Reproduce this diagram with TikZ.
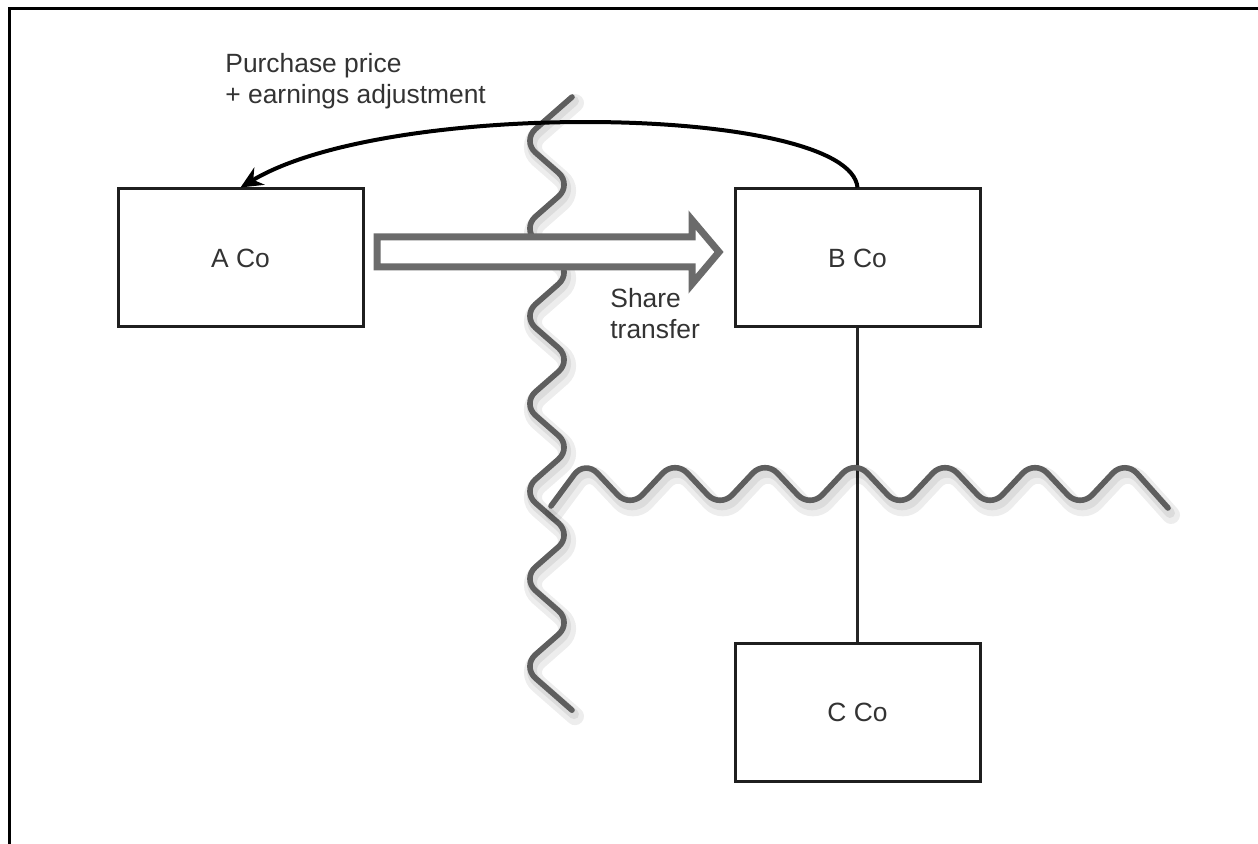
\documentclass[tikz,border=0pt]{standalone}
\usepackage{fontspec}
\setmainfont{Liberation Sans}
\usetikzlibrary{arrows.meta}
\definecolor{wavegray}{HTML}{5E5E5E}
\definecolor{arrowgray}{HTML}{6B6B6B}
\definecolor{textgray}{HTML}{333333}
\tikzset{
  cobox/.style={draw=black!88,line width=1.5pt,minimum width=122.5pt,minimum height=69pt,
    text=textgray,font=\fontsize{13.2}{15.5}\selectfont},
  wave/.style={draw=wavegray,line width=2.8pt,rounded corners=9pt,line cap=round},
  waveshadow/.style={draw=black,opacity=0.07,line width=9pt,rounded corners=9pt,line cap=round},
  lbl/.style={text=textgray,font=\fontsize{13.2}{15.5}\selectfont,align=left,inner sep=0pt,anchor=north west}
}
\begin{document}
\begin{tikzpicture}[x=0.5pt,y=-0.5pt]
        \useasboundingbox (0,0) rectangle (1258,844);
        \draw[line width=1.5pt] (9,844) -- (9,9) -- (1258,9);

        % vertical wave
        \draw[waveshadow,shift={(3,6)}] (572,97) \foreach \i in {1,...,14} { -- ({547+25*cos(180*\i)},{97+43.8*\i}) };
        \draw[waveshadow,shift={(2,4)},line width=5pt] (572,97) \foreach \i in {1,...,14} { -- ({547+25*cos(180*\i)},{97+43.8*\i}) };
        \draw[wave] (572,97) \foreach \i in {1,...,14} { -- ({547+25*cos(180*\i)},{97+43.8*\i}) };

        \begin{scope}[every node/.style={cobox}]
          \node (A) at (240.5,258) {A Co};
          \node (B) at (857.5,258) {B Co};
          \node (C) at (857.5,712.5) {C Co};
        \end{scope}

        \draw[line width=2pt,-{Stealth[length=11pt,width=10pt]}] (B.north) .. controls +(-8,-82) and +(150,-90) .. (A.north);

        % share transfer
        \draw[draw=arrowgray,fill=white,line width=3.5pt,miter limit=4]
          (377,237) -- (692,237) -- (692,220) -- (719,252) -- (692,284) -- (692,267) -- (377,267) -- cycle;

        \draw[line width=1.2pt,black!85] (B) -- (C);

        % horizontal wave
        \draw[waveshadow,shift={(3,7)}] (551,506) \foreach \i in {0,...,12} { -- ({585+45*\i},{484-24*cos(180*\i)}) } -- (1168,508);
        \draw[waveshadow,shift={(2,5)},line width=5pt] (551,506) \foreach \i in {0,...,12} { -- ({585+45*\i},{484-24*cos(180*\i)}) } -- (1168,508);
        \draw[wave] (551,506) \foreach \i in {0,...,12} { -- ({585+45*\i},{484-24*cos(180*\i)}) } -- (1168,508);

        \node[lbl] (price) at (225,53) {Purchase price\\+ earnings adjustment};
        \node[lbl] (share) at (610,288) {Share\\transfer};

      \end{tikzpicture}
\end{document}
